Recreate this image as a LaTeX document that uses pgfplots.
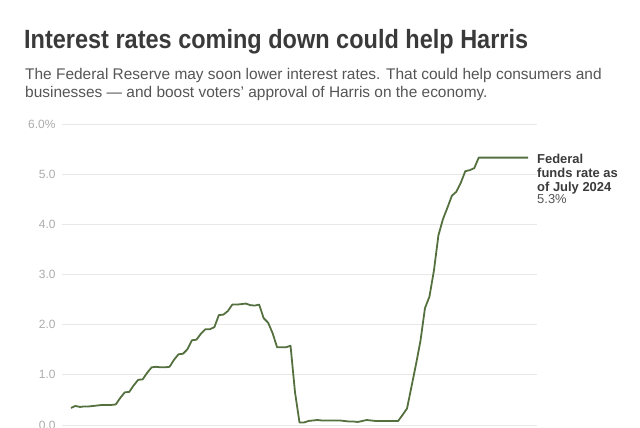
\documentclass[border=0pt]{standalone}
\usepackage{pgfplots}
\pgfplotsset{compat=1.18}
\usepackage{fontspec}
\setmainfont{Liberation Sans}
\newfontfamily\titlefont[FakeStretch=0.89]{Liberation Sans}
\definecolor{rateline}{HTML}{55703F}
\definecolor{gridgray}{HTML}{E8E8E8}
\definecolor{ticktext}{HTML}{ABABAB}
\definecolor{titletext}{HTML}{3A3A3A}
\definecolor{subtext}{HTML}{555555}

% effective federal funds rate, monthly, Jan 2016 (0) to Jul 2024 (102)
\pgfplotstableread{
m r
0 0.34
1 0.38
2 0.36
3 0.37
4 0.37
5 0.38
6 0.39
7 0.40
8 0.40
9 0.40
10 0.41
11 0.54
12 0.65
13 0.66
14 0.79
15 0.90
16 0.91
17 1.04
18 1.15
19 1.16
20 1.15
21 1.15
22 1.16
23 1.30
24 1.41
25 1.42
26 1.51
27 1.69
28 1.70
29 1.82
30 1.91
31 1.91
32 1.95
33 2.19
34 2.20
35 2.27
36 2.40
37 2.40
38 2.41
39 2.42
40 2.39
41 2.38
42 2.40
43 2.13
44 2.04
45 1.83
46 1.55
47 1.55
48 1.55
49 1.58
50 0.65
51 0.05
52 0.05
53 0.08
54 0.09
55 0.10
56 0.09
57 0.09
58 0.09
59 0.09
60 0.09
61 0.08
62 0.07
63 0.07
64 0.06
65 0.08
66 0.10
67 0.09
68 0.08
69 0.08
70 0.08
71 0.08
72 0.08
73 0.08
74 0.20
75 0.33
76 0.77
77 1.21
78 1.68
79 2.33
80 2.56
81 3.08
82 3.78
83 4.10
84 4.33
85 4.57
86 4.65
87 4.83
88 5.06
89 5.08
90 5.12
91 5.33
92 5.33
93 5.33
94 5.33
95 5.33
96 5.33
97 5.33
98 5.33
99 5.33
100 5.33
101 5.33
102 5.33
}\ffr

\begin{document}
\begin{tikzpicture}
\begin{axis}[
    at={(62bp,3bp)}, anchor=south west,
    scale only axis,
    width=475bp, height=301bp,
    xmin=-2, xmax=104,
    ymin=0, ymax=6,
    axis line style={draw=none},
    xtick=\empty,
    ytick={0,1,2,3,4,5,6},
    yticklabels={0.0,1.0,2.0,3.0,4.0,5.0,6.0\%},
    major tick length=0pt,
    ymajorgrids,
    grid style={gridgray, line width=0.9pt},
    yticklabel style={font=\fontsize{12}{13}\selectfont, text=ticktext, xshift=-3bp},
    clip=false,
]
\addplot[rateline, line width=1.8pt, line join=round] table[x=m, y=r] {\ffr};
\node[anchor=north west, align=left, inner sep=0pt, font=\fontsize{13}{14}\selectfont\bfseries, text=titletext]
    at (axis cs:104,5.4) {Federal\\funds rate as\\of July 2024};
\node[anchor=north west, inner sep=0pt, font=\fontsize{13}{14}\selectfont, text=subtext]
    at (axis cs:104,4.6) {5.3\%};
\end{axis}
\node[anchor=base west, inner sep=0pt, font=\titlefont\fontsize{26.5}{30}\selectfont\bfseries, text=titletext]
    at (24bp,379bp) {Interest rates coming down could help Harris};
\node[anchor=base west, inner sep=0pt, font=\fontsize{15.5}{19}\selectfont, text=subtext]
    at (25bp,348bp) {The Federal Reserve may soon lower interest rates. That could help consumers and};
\node[anchor=base west, inner sep=0pt, font=\fontsize{15.5}{19}\selectfont, text=subtext]
    at (25bp,330bp) {businesses --- and boost voters' approval of Harris on the economy.};
\pgfresetboundingbox
\path (0,0) rectangle (640bp,428bp);
\end{tikzpicture}
\end{document}
